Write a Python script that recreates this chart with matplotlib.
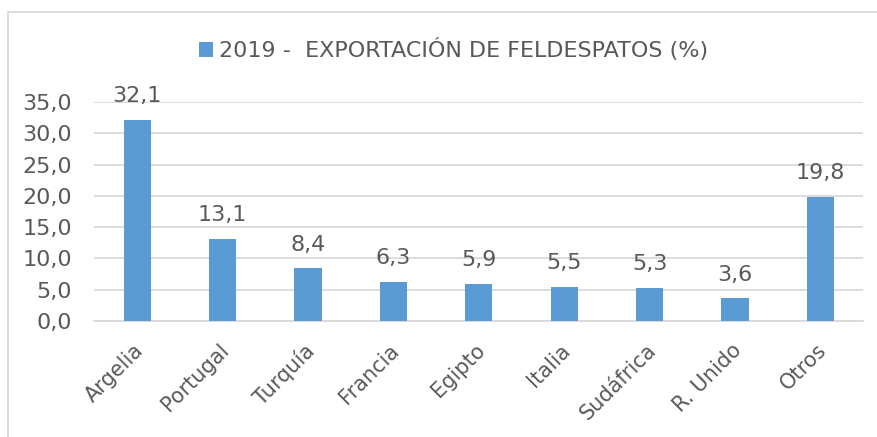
import numpy as np
import matplotlib.pyplot as plt
import matplotlib.transforms as mtransforms
from matplotlib.patches import Rectangle

paises = ['Argelia', 'Portugal', 'Turquía', 'Francia', 'Egipto', 'Italia',
          'Sudáfrica', 'R. Unido', 'Otros']
export_2019 = [32.1, 13.1, 8.4, 6.3, 5.9, 5.5, 5.3, 3.6, 19.8]
yticks = [0, 5, 10, 15, 20, 25, 30, 35]
serie = '2019 -  EXPORTACIÓN DE FELDESPATOS (%)'

azul = '#5B9BD5'
gris_txt = '#595959'
gris_lin = '#D9D9D9'

plt.rcParams['font.family'] = ['DejaVu Sans']

fig = plt.figure(figsize=(8.78, 4.37), dpi=100)
ax = fig.add_axes([0.1076, 0.2654, 0.983 - 0.1076, 0.7666 - 0.2654])

ind = np.arange(len(paises))
bars = ax.bar(ind, export_2019, 0.32, color=azul, label=serie, zorder=3)

ax.set_xlim(-0.5, len(paises) - 0.5)
ax.set_ylim(0, 35)
ax.set_yticks(yticks)
ax.set_yticklabels([('%.1f' % v).replace('.', ',') for v in yticks])
ax.yaxis.grid(True, color=gris_lin, linewidth=1.3, zorder=0)
ax.tick_params(axis='y', length=0, pad=16, labelsize=16, labelcolor=gris_txt)
ax.tick_params(axis='x', length=0, pad=19, labelsize=15, labelcolor=gris_txt)
ax.set_xticks(ind)
ax.set_xticklabels(paises, rotation=45, ha='right', va='center', rotation_mode='anchor')
shift = mtransforms.ScaledTranslation(3 / 100, 0, fig.dpi_scale_trans)
for lbl in ax.get_xticklabels():
    lbl.set_transform(lbl.get_transform() + shift)
for s in ['top', 'right', 'left']:
    ax.spines[s].set_visible(False)
ax.spines['bottom'].set_color(gris_lin)
ax.spines['bottom'].set_linewidth(1.3)

for rect, v in zip(bars, export_2019):
    ax.annotate(('%.1f' % v).replace('.', ','),
                (rect.get_x() + rect.get_width() / 2, rect.get_height()),
                xytext=(0, 10), textcoords='offset points', ha='center', va='bottom',
                fontsize=16, color=gris_txt)

fig.legend(loc='center', bbox_to_anchor=(0.517, 0.886), frameon=False,
           fontsize=16, labelcolor=gris_txt, handlelength=0.6, handleheight=0.6,
           handletextpad=0.3)

fig.add_artist(Rectangle((8 / 878, -0.2), 1.2, 1.2 - 12 / 437, transform=fig.transFigure,
                         fill=False, edgecolor=gris_lin, linewidth=1.3))

fig.savefig('out.png', dpi=100)
